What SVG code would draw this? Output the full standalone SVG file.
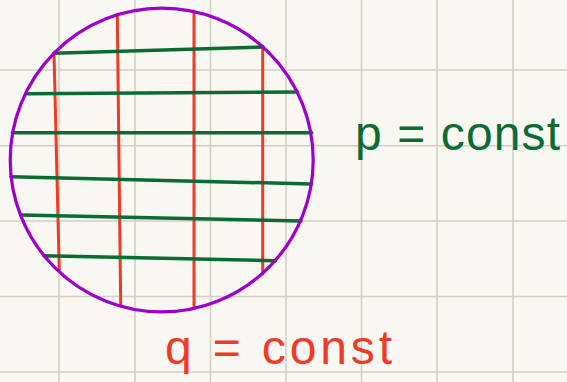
<svg xmlns="http://www.w3.org/2000/svg" width="567" height="382" viewBox="0 0 567 382">
  <style>
    .grid { stroke: #d3cfc7; stroke-width: 1.6; }
    .red { stroke: #ee3a26; stroke-width: 3; stroke-linecap: round; fill: none; }
    .green { stroke: #0b6b35; stroke-width: 3.5; stroke-linecap: round; fill: none; }
    .label { font-family: "Liberation Sans", Arial, sans-serif; font-size: 48px; }
  </style>
  <rect x="0" y="0" width="567" height="382" fill="#f9f7f2"/>
  <g id="grid">
    <line class="grid" x1="59" y1="0" x2="59" y2="382"/>
    <line class="grid" x1="135" y1="0" x2="135" y2="382"/>
    <line class="grid" x1="210.5" y1="0" x2="210.5" y2="382"/>
    <line class="grid" x1="286" y1="0" x2="286" y2="382"/>
    <line class="grid" x1="361.5" y1="0" x2="361.5" y2="382"/>
    <line class="grid" x1="437" y1="0" x2="437" y2="382"/>
    <line class="grid" x1="513" y1="0" x2="513" y2="382"/>
    <line class="grid" x1="0" y1="70" x2="567" y2="70"/>
    <line class="grid" x1="0" y1="145.7" x2="567" y2="145.7"/>
    <line class="grid" x1="0" y1="221" x2="567" y2="221"/>
    <line class="grid" x1="0" y1="296.5" x2="567" y2="296.5"/>
    <line class="grid" x1="0" y1="372" x2="567" y2="372"/>
  </g>
  <g id="q-lines">
    <line class="red" x1="54" y1="53.5" x2="59.3" y2="271"/>
    <line class="red" x1="117.3" y1="14.5" x2="120.7" y2="306"/>
    <line class="red" x1="194" y1="11" x2="194" y2="308.3"/>
    <line class="red" x1="262.7" y1="47.7" x2="262.7" y2="274"/>
  </g>
  <g id="p-lines">
    <line class="green" x1="54" y1="53.3" x2="263.3" y2="47"/>
    <line class="green" x1="25.7" y1="93.7" x2="297.7" y2="92"/>
    <line class="green" x1="12.3" y1="132.7" x2="311.7" y2="132.7"/>
    <line class="green" x1="11" y1="176.7" x2="311.7" y2="184"/>
    <line class="green" x1="20.7" y1="215" x2="301" y2="221"/>
    <line class="green" x1="44" y1="255.7" x2="275.3" y2="260.7"/>
  </g>
  <g id="disc">
    <ellipse cx="161.7" cy="160" rx="151.5" ry="151.8" fill="none" stroke="#9c00c9" stroke-width="3.2"/>
  </g>
  <g id="label-p">
    <text class="label" x="355" y="150" fill="#0b6b35" textLength="205" lengthAdjust="spacing">p = const</text>
  </g>
  <g id="label-q">
    <text class="label" x="165" y="364" fill="#ee3a26" textLength="227" lengthAdjust="spacing">q = const</text>
  </g>
</svg>
